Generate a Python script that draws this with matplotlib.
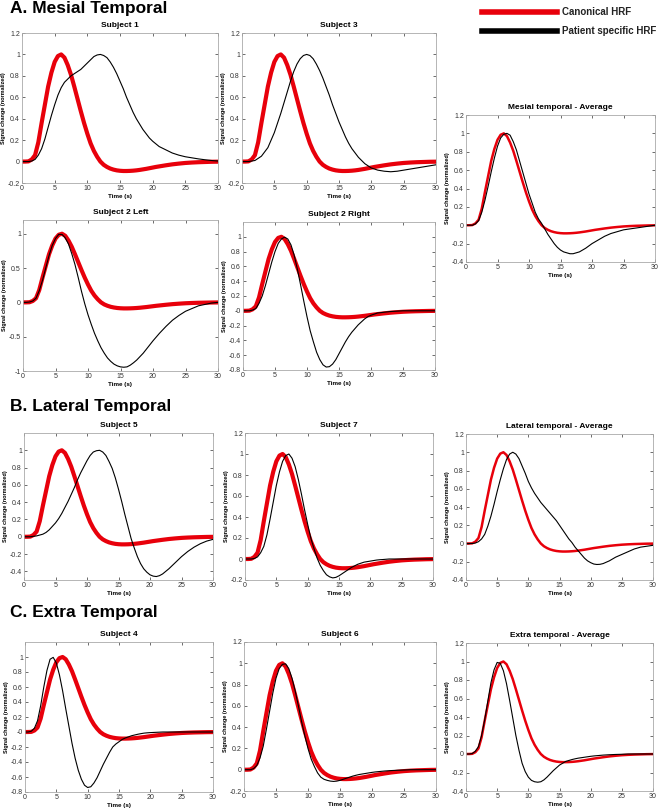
import numpy as np
import matplotlib.pyplot as plt

plt.rcParams['font.family'] = ['Liberation Sans', 'DejaVu Sans']

# time axis (s): half-second steps up to 22 s, then whole seconds
t = [i * 0.5 for i in range(45)] + list(range(23, 31))

# canonical HRF (same in every panel)
canonical = [0, 0, 0.002, 0.02, 0.06, 0.18, 0.36, 0.53, 0.7, 0.83, 0.93, 0.985, 1.0,
             0.97, 0.9, 0.81, 0.7, 0.585, 0.47, 0.36, 0.26, 0.17, 0.1, 0.045, 0.0,
             -0.03, -0.05, -0.065, -0.075, -0.082, -0.086, -0.088, -0.088, -0.087,
             -0.085, -0.082, -0.078, -0.073, -0.068, -0.062, -0.056, -0.05, -0.045,
             -0.04, -0.035,
             -0.026, -0.019, -0.013, -0.009, -0.006, -0.004, -0.002, -0.001]

# patient specific HRFs
subj1 = [0, 0, 0, 0.005, 0.02, 0.06, 0.12, 0.21, 0.32, 0.43, 0.53, 0.62, 0.69, 0.74,
         0.77, 0.8, 0.82, 0.84, 0.86, 0.89, 0.92, 0.95, 0.98, 0.995, 1.0, 0.99, 0.97,
         0.93, 0.88, 0.82, 0.75, 0.68, 0.6, 0.53, 0.46, 0.4, 0.35, 0.3, 0.26, 0.22,
         0.19, 0.165, 0.14, 0.125, 0.11,
         0.08, 0.06, 0.045, 0.035, 0.025, 0.017, 0.01, 0.005]
subj3 = [0, 0, 0, 0.005, 0.01, 0.03, 0.05, 0.09, 0.13, 0.2, 0.27, 0.36, 0.45, 0.55,
         0.65, 0.75, 0.84, 0.91, 0.96, 0.99, 1.0, 0.99, 0.96, 0.91, 0.85, 0.78, 0.7,
         0.62, 0.53, 0.45, 0.37, 0.3, 0.23, 0.17, 0.12, 0.08, 0.04, 0.01, -0.02, -0.04,
         -0.06, -0.07, -0.08, -0.085, -0.09,
         -0.095, -0.09, -0.08, -0.07, -0.06, -0.05, -0.04, -0.03]
mesial_avg = [0, 0, 0, 0.015, 0.05, 0.14, 0.27, 0.42, 0.58, 0.73, 0.86, 0.95, 0.99,
              1.0, 0.98, 0.91, 0.82, 0.7, 0.58, 0.46, 0.34, 0.24, 0.14, 0.07, 0.02,
              -0.04, -0.1, -0.15, -0.2, -0.24, -0.27, -0.29, -0.3, -0.31, -0.31, -0.3,
              -0.29, -0.27, -0.25, -0.225, -0.2, -0.18, -0.16, -0.14, -0.12,
              -0.09, -0.07, -0.05, -0.04, -0.03, -0.02, -0.01, 0]
subj2L = [0, 0, 0.005, 0.02, 0.06, 0.17, 0.32, 0.5, 0.68, 0.83, 0.93, 0.99, 0.99,
          0.94, 0.85, 0.71, 0.55, 0.36, 0.16, -0.02, -0.18, -0.32, -0.45, -0.56, -0.66,
          -0.74, -0.81, -0.86, -0.9, -0.925, -0.94, -0.945, -0.94, -0.915, -0.88,
          -0.84, -0.79, -0.74, -0.68, -0.62, -0.56, -0.505, -0.45, -0.4, -0.35,
          -0.26, -0.19, -0.13, -0.09, -0.05, -0.03, -0.01, 0]
subj2R = [0, 0, 0, 0.01, 0.03, 0.1, 0.2, 0.34, 0.5, 0.66, 0.8, 0.91, 0.97, 0.995, 0.97,
          0.89, 0.75, 0.56, 0.35, 0.13, -0.08, -0.27, -0.42, -0.56, -0.66, -0.73,
          -0.76, -0.755, -0.72, -0.66, -0.58, -0.5, -0.42, -0.35, -0.29, -0.24, -0.19,
          -0.15, -0.11, -0.08, -0.06, -0.045, -0.03, -0.025, -0.02,
          -0.01, -0.005, 0, 0, 0, 0, 0, 0]
subj5 = [0, 0, 0, 0.005, 0.01, 0.02, 0.03, 0.05, 0.08, 0.12, 0.16, 0.21, 0.27, 0.34,
         0.41, 0.49, 0.57, 0.66, 0.74, 0.81, 0.88, 0.94, 0.98, 0.995, 1.0, 0.98, 0.94,
         0.87, 0.79, 0.68, 0.55, 0.41, 0.26, 0.12, -0.02, -0.13, -0.23, -0.31, -0.37,
         -0.41, -0.44, -0.455, -0.46, -0.45, -0.43,
         -0.37, -0.3, -0.23, -0.17, -0.12, -0.08, -0.05, -0.03]
subj7 = [0, 0, 0, 0.005, 0.02, 0.06, 0.12, 0.23, 0.38, 0.54, 0.7, 0.83, 0.93, 0.985,
         1.0, 0.96, 0.88, 0.76, 0.62, 0.47, 0.33, 0.2, 0.1, 0.01, -0.06, -0.11, -0.15,
         -0.17, -0.18, -0.175, -0.16, -0.14, -0.12, -0.1, -0.08, -0.065, -0.05, -0.04,
         -0.03, -0.025, -0.02, -0.015, -0.01, -0.007, -0.005,
         0, 0, 0, 0, 0, 0, 0, 0]
lateral_avg = [0, 0, 0, 0.005, 0.02, 0.05, 0.1, 0.19, 0.3, 0.43, 0.57, 0.7, 0.82, 0.92,
               0.98, 1.0, 0.98, 0.93, 0.85, 0.77, 0.68, 0.61, 0.55, 0.5, 0.45, 0.41,
               0.37, 0.33, 0.29, 0.25, 0.2, 0.15, 0.1, 0.05, 0.01, -0.04, -0.08, -0.12,
               -0.16, -0.19, -0.21, -0.225, -0.23, -0.228, -0.22,
               -0.19, -0.15, -0.12, -0.09, -0.06, -0.04, -0.03, -0.02]
subj4 = [0, 0, 0.01, 0.05, 0.15, 0.35, 0.6, 0.82, 0.97, 0.995, 0.92, 0.76, 0.55, 0.31,
         0.08, -0.15, -0.35, -0.51, -0.63, -0.71, -0.74, -0.73, -0.68, -0.61, -0.52,
         -0.43, -0.35, -0.27, -0.2, -0.16, -0.13, -0.1, -0.08, -0.065, -0.05, -0.04,
         -0.03, -0.022, -0.015, -0.011, -0.008, -0.006, -0.004, -0.002, 0,
         0, 0, 0, 0, 0, 0, 0, 0]
subj6 = [0, 0, 0, 0.01, 0.04, 0.11, 0.22, 0.38, 0.55, 0.72, 0.86, 0.95, 0.99, 0.995,
         0.95, 0.86, 0.74, 0.6, 0.45, 0.32, 0.2, 0.1, 0.03, -0.03, -0.07, -0.09, -0.1,
         -0.107, -0.11, -0.107, -0.1, -0.09, -0.08, -0.07, -0.06, -0.052, -0.045,
         -0.04, -0.035, -0.03, -0.025, -0.021, -0.018, -0.015, -0.012,
         -0.008, -0.005, -0.003, 0, 0, 0, 0, 0]
extra_avg = [0, 0, 0.005, 0.03, 0.08, 0.2, 0.37, 0.57, 0.77, 0.91, 0.99, 0.98, 0.9,
             0.76, 0.58, 0.39, 0.2, 0.04, -0.1, -0.19, -0.25, -0.285, -0.3, -0.305,
             -0.3, -0.28, -0.25, -0.215, -0.18, -0.15, -0.12, -0.1, -0.08, -0.07, -0.06,
             -0.052, -0.045, -0.04, -0.035, -0.03, -0.025, -0.021, -0.018, -0.015,
             -0.012,
             -0.008, -0.005, -0.003, 0, 0, 0, 0, 0]

W, H = 660, 811
fig = plt.figure(figsize=(W / 100, H / 100), dpi=100)


def box(l, top, r, b):
    return [l / W, 1 - b / H, (r - l) / W, (b - top) / H]


# title, pixel box, patient curve, ylim, yticks, is_average
panels = [
    ("Subject 1", (22, 33, 218, 183), subj1, (-0.2, 1.2), np.arange(-0.2, 1.21, 0.2), False),
    ("Subject 3", (242, 33, 436, 183), subj3, (-0.2, 1.2), np.arange(-0.2, 1.21, 0.2), False),
    ("Mesial temporal - Average", (466, 115, 655, 262), mesial_avg, (-0.4, 1.2), np.arange(-0.4, 1.21, 0.2), True),
    ("Subject 2 Left", (23, 220, 218, 371), subj2L, (-1, 1.2), [-1, -0.5, 0, 0.5, 1], False),
    ("Subject 2 Right", (243, 222, 435, 370), subj2R, (-0.8, 1.2), np.arange(-0.8, 1.01, 0.2), False),
    ("Subject 5", (24, 433, 213, 580), subj5, (-0.5, 1.2), np.arange(-0.4, 1.01, 0.2), False),
    ("Subject 7", (245, 433, 433, 580), subj7, (-0.2, 1.2), np.arange(-0.2, 1.21, 0.2), False),
    ("Lateral temporal - Average", (466, 434, 653, 580), lateral_avg, (-0.4, 1.2), np.arange(-0.4, 1.21, 0.2), True),
    ("Subject 4", (25, 642, 213, 792), subj4, (-0.8, 1.2), np.arange(-0.8, 1.01, 0.2), False),
    ("Subject 6", (244, 642, 436, 791), subj6, (-0.2, 1.2), np.arange(-0.2, 1.21, 0.2), False),
    ("Extra temporal - Average", (466, 643, 653, 791), extra_avg, (-0.4, 1.2), np.arange(-0.4, 1.21, 0.2), True),
]

for title, pix, patient, ylim, yticks, avg in panels:
    ax = fig.add_axes(box(*pix))
    ax.plot(t, canonical, color='#e8000b', lw=1.8 if avg else 3.0, solid_capstyle='round')
    ax.plot(t, patient, color='black', lw=0.8)
    ax.set_xlim(0, 30)
    ax.set_ylim(*ylim)
    ax.set_xticks([0, 5, 10, 15, 20, 25, 30])
    ax.set_yticks(yticks)
    ax.set_yticklabels(['%g' % round(v, 1) for v in yticks])
    ax.tick_params(direction='in', top=True, right=True, length=2, width=0.5,
                   labelsize=5, pad=1.5, colors='#333333')
    for s in ax.spines.values():
        s.set_color('#aaaaaa')
        s.set_linewidth(0.6)
    ax.set_title(title, fontsize=6, fontweight='bold', pad=4)
    ax.set_xlabel("Time (s)", fontsize=4.5, fontweight='bold', labelpad=1.5)
    ax.set_ylabel("Signal change (normalized)", fontsize=4, fontweight='bold', labelpad=1)

# section headings
fig.text(10 / W, 1 - 9 / H, "A. Mesial Temporal", fontsize=12.5, fontweight='bold', va='center')
fig.text(10 / W, 1 - 407 / H, "B. Lateral Temporal", fontsize=12.5, fontweight='bold', va='center')
fig.text(10 / W, 1 - 613 / H, "C. Extra Temporal", fontsize=12.5, fontweight='bold', va='center')

# legend drawn as figure lines
fig.add_artist(plt.Line2D([482 / W, 557 / W], [1 - 12 / H, 1 - 12 / H], color='#e8000b', lw=4,
                          transform=fig.transFigure))
fig.add_artist(plt.Line2D([482 / W, 557 / W], [1 - 31 / H, 1 - 31 / H], color='black', lw=4,
                          transform=fig.transFigure))
fig.text(562 / W, 1 - 12 / H, "Canonical HRF", fontsize=7, fontweight='bold', va='center', color='#222222')
fig.text(562 / W, 1 - 31 / H, "Patient specific HRF", fontsize=7, fontweight='bold', va='center', color='#222222')

fig.savefig("out.png", dpi=100)
